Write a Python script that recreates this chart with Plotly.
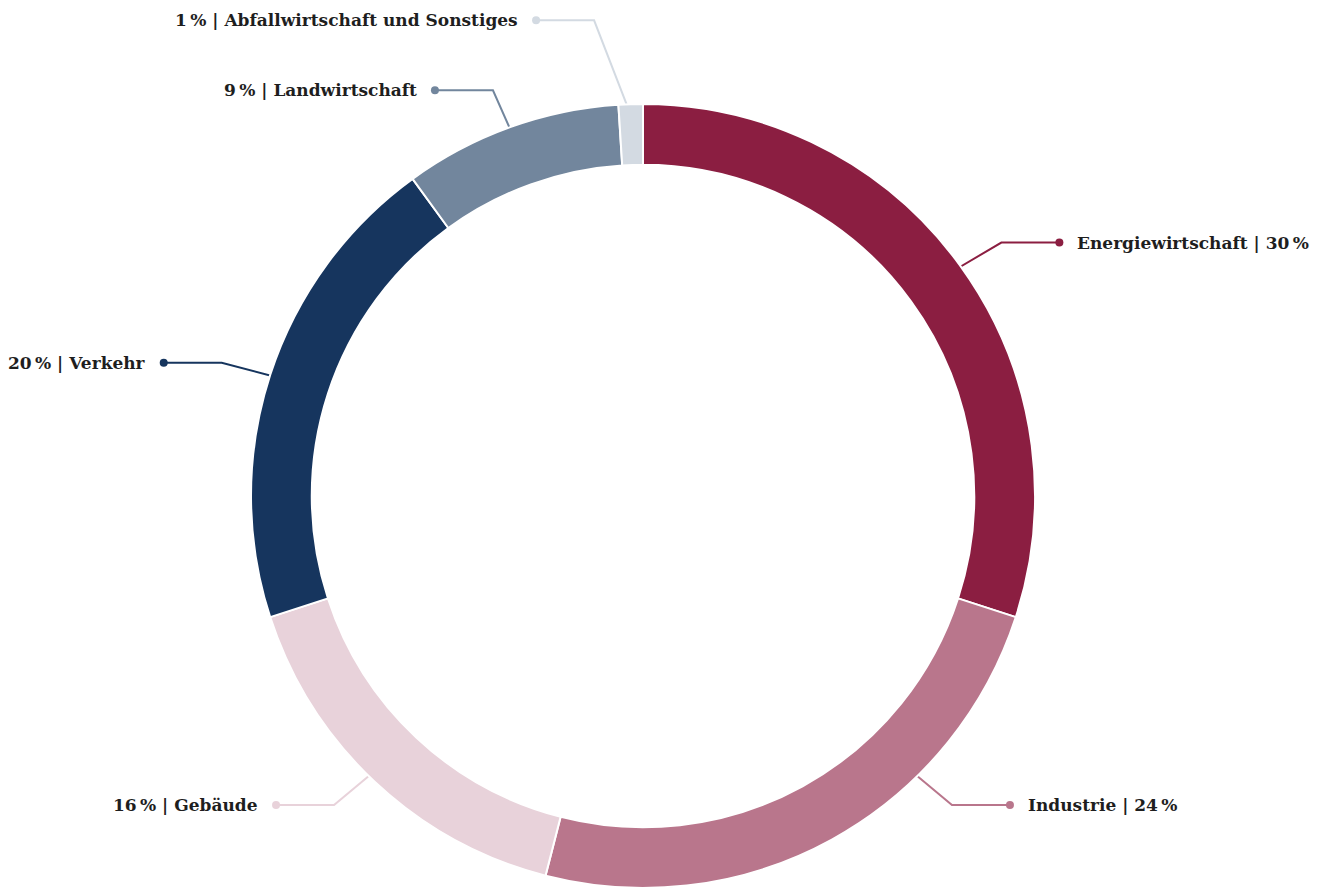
import numpy as np
import plotly.graph_objects as go

# ---- data ----
labels = ["Energiewirtschaft", "Industrie", "Gebäude", "Verkehr",
          "Landwirtschaft", "Abfallwirtschaft und Sonstiges"]
values = [30, 24, 16, 20, 9, 1]
colors = ["#8B1E41", "#B9768C", "#E8D2DA", "#16355E", "#72869D", "#D3DAE2"]

# ---- layout constants ----
W, H = 1342, 890
cx, cy, R = 643, 496, 392
HOLE = 0.845
FONT = "DejaVu Serif"

fig = go.Figure()
fig.add_trace(go.Pie(
    values=values, labels=labels, hole=HOLE, sort=False,
    direction="clockwise", rotation=0,
    marker=dict(colors=colors, line=dict(color="white", width=2)),
    textinfo="none", showlegend=False,
    domain=dict(x=[(cx - R) / W, (cx + R) / W],
                y=[(H - cy - R) / H, (H - cy + R) / H]),
))

# ---- label positions derived from slice angles ----
total = float(sum(values))
cum = np.cumsum([0] + values[:-1])
mids = [(c + v / 2) / total * 360 for c, v in zip(cum, values)]
Re = 1.1 * R      # vertical elbow radius
Rx = 1.13 * R     # horizontal elbow radius
SEG = 58          # horizontal connector length
ymin, ymax = 18, H - 85
items = []
for i, th in enumerate(mids):
    t = np.radians(th)
    side = 1 if np.sin(t) > 0 else -1
    ey = cy - Re * np.cos(t)
    items.append(dict(i=i, t=t, side=side, ey=ey))

# spread labels on each side so they don't crowd
for s in (1, -1):
    grp = sorted([it for it in items if it["side"] == s], key=lambda d: -d["ey"])
    prev = None
    for it in grp:
        it["ey"] = min(it["ey"], ymax)
        if prev is not None and it["ey"] > prev - 70:
            it["ey"] = prev - 70
        it["ey"] = max(it["ey"], ymin)
        prev = it["ey"]

annotations = []
for it in items:
    i, t, side, ey = it["i"], it["t"], it["side"], it["ey"]
    dy = ey - cy
    orig_ey = cy - Re * np.cos(t)
    moved = abs(ey - orig_ey) > 1
    if moved and abs(dy) <= Re:
        tt = np.arccos(-dy / Re)
        if side < 0:
            tt = 2 * np.pi - tt
    else:
        tt = t
    ex = cx + Rx * np.sin(tt)
    if moved and abs(dy) > Re:
        ex = ex + side * 35
    ax = cx + 0.97 * R * np.sin(tt)
    ay = cy - 0.97 * R * np.cos(tt)
    dx = ex + side * SEG
    fig.add_trace(go.Scatter(
        x=[ax, ex, dx], y=[ay, ey, ey], mode="lines",
        line=dict(color=colors[i], width=2), hoverinfo="skip", showlegend=False))
    fig.add_trace(go.Scatter(
        x=[dx], y=[ey], mode="markers",
        marker=dict(color=colors[i], size=8), hoverinfo="skip", showlegend=False))
    if side > 0:
        txt = f"{labels[i]} | {values[i]}\u202f%"
    else:
        txt = f"{values[i]}\u202f% | {labels[i]}"
    annotations.append(dict(
        x=dx + side * 16, y=ey, xref="x", yref="y", text=txt, showarrow=False,
        xanchor="left" if side > 0 else "right", yanchor="middle",
        font=dict(family=FONT, size=17, color="#1E1E1E", weight="bold")))

fig.update_layout(
    width=W, height=H, margin=dict(l=0, r=0, t=0, b=0),
    paper_bgcolor="white", plot_bgcolor="white",
    xaxis=dict(range=[0, W], visible=False, fixedrange=True),
    yaxis=dict(range=[H, 0], visible=False, fixedrange=True),
    annotations=annotations,
)

fig.write_html("out.html")
